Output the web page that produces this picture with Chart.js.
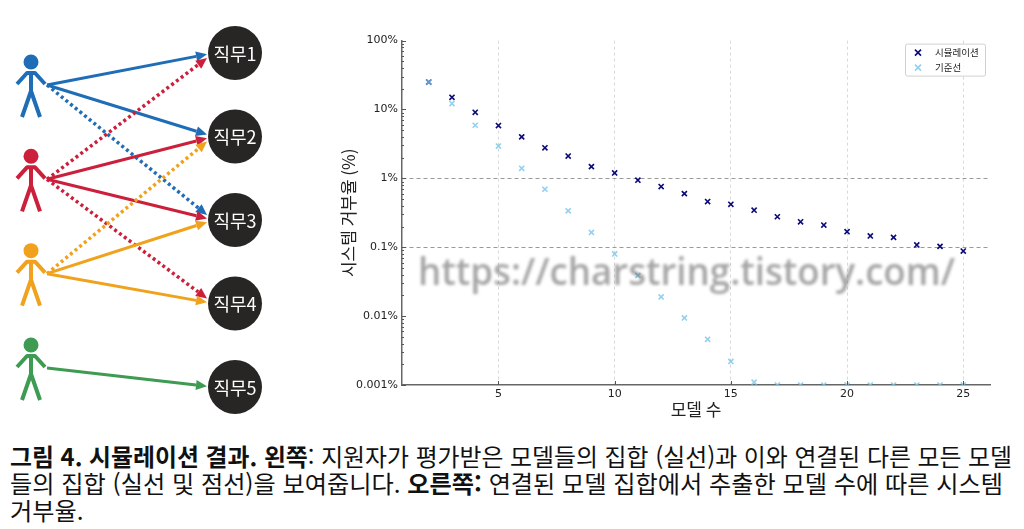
<!DOCTYPE html>
<html lang="ko">
<head>
<meta charset="utf-8">
<title>시뮬레이션 결과</title>
<script src="https://cdn.jsdelivr.net/npm/chart.js@4.4.1/dist/chart.umd.min.js"></script>
<style>
  html, body { margin: 0; padding: 0; background: #fff; }
  body { width: 1024px; height: 529px; position: relative; overflow: hidden; font-family: 'Noto Sans CJK KR', sans-serif; }
  #diagramBox { position: absolute; left: 0; top: 0; width: 300px; height: 430px; }
  #chartBox { position: absolute; left: 330px; top: 30px; width: 670px; height: 400px; }
  .caption { position: absolute; left: 10px; white-space: nowrap; font-size: 24px; line-height: 27px; color: #111; transform-origin: 0 50%; }
  .caption b { font-weight: 700; }
  #watermark { position: absolute; left: 418px; top: 251px; white-space: nowrap; font-family: 'Open Sans', sans-serif; font-weight: 600; font-size: 38px; line-height: 38px; color: rgba(105,105,105,0.6); filter: blur(1.7px); transform-origin: 0 50%; pointer-events: none; }
</style>
</head>
<body>
<div id="diagramBox"><canvas id="diagramChart"></canvas></div>
<div id="chartBox"><canvas id="rejectChart"></canvas></div>

<div class="caption" id="cap1" style="top:442px"><b>그림 4. 시뮬레이션 결과. 왼쪽</b>: 지원자가 평가받은 모델들의 집합 (실선)과 이와 연결된 다른 모든 모델</div>
<div class="caption" id="cap2" style="top:469px">들의 집합 (실선 및 점선)을 보여줍니다. <b>오른쪽:</b> 연결된 모델 집합에서 추출한 모델 수에 따른 시스템</div>
<div class="caption" id="cap3" style="top:496px">거부율.</div>

<div id="watermark">https://charstring.tistory.com/</div>

<script>
// ---- left diagram data ----
const jobLabels = ['직무1', '직무2', '직무3', '직무4', '직무5'];
const personColors = ['#1f6db6', '#cc1f3b', '#f0a21c', '#3d9b52'];
// each edge: person index -> job index, solid (evaluated) or dotted (connected)
const edgeFrom  = [0, 0, 0, 1, 1, 1, 1, 2, 2, 2, 3];
const edgeTo    = [0, 1, 2, 1, 2, 0, 3, 2, 3, 1, 4];
const edgeSolid = [true, true, false, true, true, false, false, true, true, false, true];

// ---- right chart data ----
const modelCounts = [2, 3, 4, 5, 6, 7, 8, 9, 10, 11, 12, 13, 14, 15, 16, 17, 18, 19, 20, 21, 22, 23, 24, 25];
const simRates = [25, 15, 9.1, 5.85, 4.0, 2.78, 2.11, 1.48, 1.2, 0.94, 0.76, 0.60,
                  0.46, 0.42, 0.345, 0.277, 0.234, 0.21, 0.168, 0.146, 0.139, 0.108, 0.103, 0.088];
const baseRates = [25, 12.2, 5.9, 2.94, 1.4, 0.695, 0.338, 0.164, 0.08, 0.039, 0.019, 0.0094,
                   0.0046, 0.0022, 0.0011, 0.001, 0.001, 0.001, 0.001, 0.001, 0.001, 0.001, 0.001, 0.001];
const seriesLabels = ['시뮬레이션', '기준선'];
const yTicks = [100, 10, 1, 0.1, 0.01, 0.001];
const yTickLabels = ['100%', '10%', '1%', '0.1%', '0.01%', '0.001%'];
const xTicks = [5, 10, 15, 20, 25];
const refLines = [1, 0.1];

const jobRadius = 27;

function drawArrow(ctx, x1, y1, x2, y2, color, solid) {
    const ang = Math.atan2(y2 - y1, x2 - x1);
    const head = 11, half = 5;
    const bx = x2 - head * Math.cos(ang), by = y2 - head * Math.sin(ang);
    ctx.save();
    ctx.strokeStyle = color;
    ctx.fillStyle = color;
    ctx.lineWidth = solid ? 3 : 3.5;
    ctx.setLineDash(solid ? [] : [3, 3]);
    ctx.beginPath();
    ctx.moveTo(x1, y1);
    ctx.lineTo(bx, by);
    ctx.stroke();
    ctx.setLineDash([]);
    ctx.beginPath();
    ctx.moveTo(x2, y2);
    ctx.lineTo(bx + half * Math.sin(ang), by - half * Math.cos(ang));
    ctx.lineTo(bx - half * Math.sin(ang), by + half * Math.cos(ang));
    ctx.closePath();
    ctx.fill();
    ctx.restore();
}

function drawPerson(ctx, hx, hy, color) {
    ctx.save();
    ctx.fillStyle = color;
    ctx.strokeStyle = color;
    ctx.lineWidth = 4;
    ctx.lineJoin = 'round';
    ctx.beginPath();
    ctx.arc(hx, hy, 7.5, 0, Math.PI * 2);
    ctx.fill();
    ctx.beginPath();
    // arms
    ctx.moveTo(hx - 14, hy + 22);
    ctx.lineTo(hx - 4, hy + 11);
    ctx.lineTo(hx + 4, hy + 11);
    ctx.lineTo(hx + 14, hy + 22);
    // body
    ctx.moveTo(hx, hy + 10);
    ctx.lineTo(hx, hy + 31);
    // legs
    ctx.moveTo(hx - 9, hy + 55);
    ctx.lineTo(hx, hy + 29);
    ctx.lineTo(hx + 9, hy + 55);
    ctx.stroke();
    ctx.restore();
}

// plugin that draws arrows, stick figures and job labels from the scales
const diagramPlugin = {
    id: 'diagram',
    beforeDatasetsDraw(chart) {
        const ctx = chart.ctx;
        const { x, yj, yp } = chart.scales;
        for (let k = 0; k < edgeFrom.length; k++) {
            const p = edgeFrom[k], j = edgeTo[k];
            const sx = x.getPixelForValue(0) + 16;
            const sy = yp.getPixelForValue(p + 1) + 23;
            const jy = yj.getPixelForValue(j + 1);
            const ex = x.getPixelForValue(1) - jobRadius - 1;
            const ey = jy + Math.max(-5, Math.min(5, (sy - jy) * 0.04));
            drawArrow(ctx, sx, sy, ex, ey, personColors[p], edgeSolid[k]);
        }
    },
    afterDatasetsDraw(chart) {
        const ctx = chart.ctx;
        const { x, yj, yp } = chart.scales;
        personColors.forEach((c, i) => drawPerson(ctx, x.getPixelForValue(0), yp.getPixelForValue(i + 1), c));
        ctx.save();
        ctx.fillStyle = '#fff';
        ctx.font = '18px "Noto Sans CJK KR"';
        ctx.textAlign = 'center';
        ctx.textBaseline = 'middle';
        jobLabels.forEach((l, i) => ctx.fillText(l, x.getPixelForValue(1), yj.getPixelForValue(i + 1) + 1));
        ctx.restore();
    }
};

new Chart(document.getElementById('diagramChart'), {
    type: 'scatter',
    data: {
        datasets: [{
            data: jobLabels.map((l, i) => ({ x: 1, y: i + 1 })),
            yAxisID: 'yj',
            pointRadius: jobRadius,
            pointBackgroundColor: '#282624',
            pointBorderWidth: 0
        }, {
            data: personColors.map((c, i) => ({ x: 0, y: i + 1 })),
            yAxisID: 'yp',
            pointRadius: 0
        }]
    },
    options: {
        responsive: true,
        maintainAspectRatio: false,
        animation: false,
        events: [],
        layout: { padding: 0, autoPadding: false },
        plugins: { legend: { display: false }, tooltip: { enabled: false } },
        scales: {
            x: { type: 'linear', display: false, min: -0.152, max: 1.3186 },
            yj: { type: 'linear', display: false, reverse: true, min: 0.365, max: 5.515 },
            yp: { type: 'linear', display: false, reverse: true, min: 0.343, max: 4.901 }
        }
    },
    plugins: [diagramPlugin]
});

// inward tick marks (matplotlib style) and a boxed legend in the upper right
const axisDecor = {
    id: 'axisDecor',
    afterDraw(chart) {
        const ctx = chart.ctx;
        const { x, y } = chart.scales;
        const area = chart.chartArea;
        ctx.save();
        ctx.strokeStyle = '#555';
        ctx.lineWidth = 1;
        ctx.beginPath();
        xTicks.forEach(v => {
            const px = Math.round(x.getPixelForValue(v)) + 0.5;
            ctx.moveTo(px, area.bottom);
            ctx.lineTo(px, area.bottom - 4);
        });
        yTicks.forEach(v => {
            const py = Math.round(y.getPixelForValue(v)) + 0.5;
            ctx.moveTo(area.left, py);
            ctx.lineTo(area.left + 4, py);
            if (v < 100) {
                for (let m = 2; m <= 9; m++) {
                    const pm = Math.round(y.getPixelForValue(v * m)) + 0.5;
                    ctx.moveTo(area.left, pm);
                    ctx.lineTo(area.left + 2, pm);
                }
            }
        });
        ctx.stroke();

        // legend box
        const bw = 80, bh = 32;
        const bx = area.right - 5 - bw, by = area.top + 3;
        ctx.fillStyle = 'rgba(255,255,255,0.85)';
        ctx.strokeStyle = '#d0d0d0';
        ctx.beginPath();
        ctx.roundRect(bx + 0.5, by + 0.5, bw, bh, 2);
        ctx.fill();
        ctx.stroke();
        ctx.font = '9.5px "Noto Sans CJK KR"';
        ctx.textBaseline = 'middle';
        ctx.textAlign = 'left';
        chart.data.datasets.forEach((ds, i) => {
            const my = by + 9 + i * 15;
            const mx = bx + 13;
            ctx.strokeStyle = ds.borderColor;
            ctx.lineWidth = 1.6;
            ctx.beginPath();
            ctx.moveTo(mx - 3, my - 3); ctx.lineTo(mx + 3, my + 3);
            ctx.moveTo(mx - 3, my + 3); ctx.lineTo(mx + 3, my - 3);
            ctx.stroke();
            ctx.fillStyle = '#222';
            ctx.fillText(ds.label, bx + 30, my);
        });
        ctx.restore();
    }
};

new Chart(document.getElementById('rejectChart'), {
    type: 'scatter',
    data: {
        datasets: [{
            label: seriesLabels[0],
            data: modelCounts.map((m, i) => ({ x: m, y: simRates[i] })),
            borderColor: '#0a0a78',
            pointStyle: 'crossRot',
            pointRadius: 3.6,
            pointBorderWidth: 1.6,
            order: 2
        }, {
            label: seriesLabels[1],
            data: modelCounts.map((m, i) => ({ x: m, y: baseRates[i] })),
            borderColor: 'rgba(120,196,232,0.8)',
            pointStyle: 'crossRot',
            pointRadius: 3.6,
            pointBorderWidth: 1.6,
            order: 1
        }]
    },
    options: {
        responsive: true,
        maintainAspectRatio: false,
        animation: false,
        events: [],
        layout: { padding: { top: 9, right: 10, left: 0, bottom: 0 }, autoPadding: false },
        plugins: { legend: { display: false }, tooltip: { enabled: false } },
        scales: {
            x: {
                type: 'linear',
                min: 0.85,
                max: 26.15,
                afterBuildTicks: s => { s.ticks = xTicks.map(v => ({ value: v })); },
                afterFit: s => { s.height = 45; },
                grid: { color: '#d9d9d9', lineWidth: 1, drawTicks: false },
                border: { color: '#666', width: 1.5, dash: [3, 3] },
                ticks: { font: { family: 'DejaVu Sans', size: 11 }, color: '#222', padding: 3, autoSkip: false, maxRotation: 0 },
                title: { display: true, text: '모델 수', font: { family: 'Noto Sans CJK KR', size: 17 }, color: '#222', padding: { top: 0, bottom: 10 } }
            },
            y: {
                type: 'logarithmic',
                min: 0.001,
                max: 100,
                afterBuildTicks: s => { s.ticks = yTicks.map(v => ({ value: v })); },
                afterFit: s => { s.width = 72; },
                grid: {
                    color: c => (c.tick && refLines.includes(c.tick.value)) ? '#9a9a9a' : 'rgba(0,0,0,0)',
                    lineWidth: 1,
                    drawTicks: false
                },
                border: { color: '#666', width: 1.5, dash: [4, 3] },
                ticks: {
                    font: { family: 'DejaVu Sans', size: 11 },
                    color: '#222',
                    padding: 4,
                    autoSkip: false,
                    callback: v => {
                        const i = yTicks.indexOf(v);
                        return i >= 0 ? yTickLabels[i] : '';
                    }
                },
                title: { display: true, text: '시스템 거부율 (%)', font: { family: 'Noto Sans CJK KR', size: 17 }, color: '#222', padding: { top: 8, bottom: 0 } }
            }
        }
    },
    plugins: [axisDecor]
});

// stretch caption lines and watermark to the widths in the picture
function fitText() {
    const fit = (id, w) => {
        const el = document.getElementById(id);
        el.style.transform = 'none';
        const s = w / el.getBoundingClientRect().width;
        el.style.transform = 'scaleX(' + s + ')';
        return s;
    };
    fit('cap1', 1002);
    const s2 = fit('cap2', 993);
    document.getElementById('cap3').style.transform = 'scaleX(' + s2 + ')';
    fit('watermark', 537);
}
fitText();
if (document.fonts) document.fonts.ready.then(fitText);
</script>
</body>
</html>
